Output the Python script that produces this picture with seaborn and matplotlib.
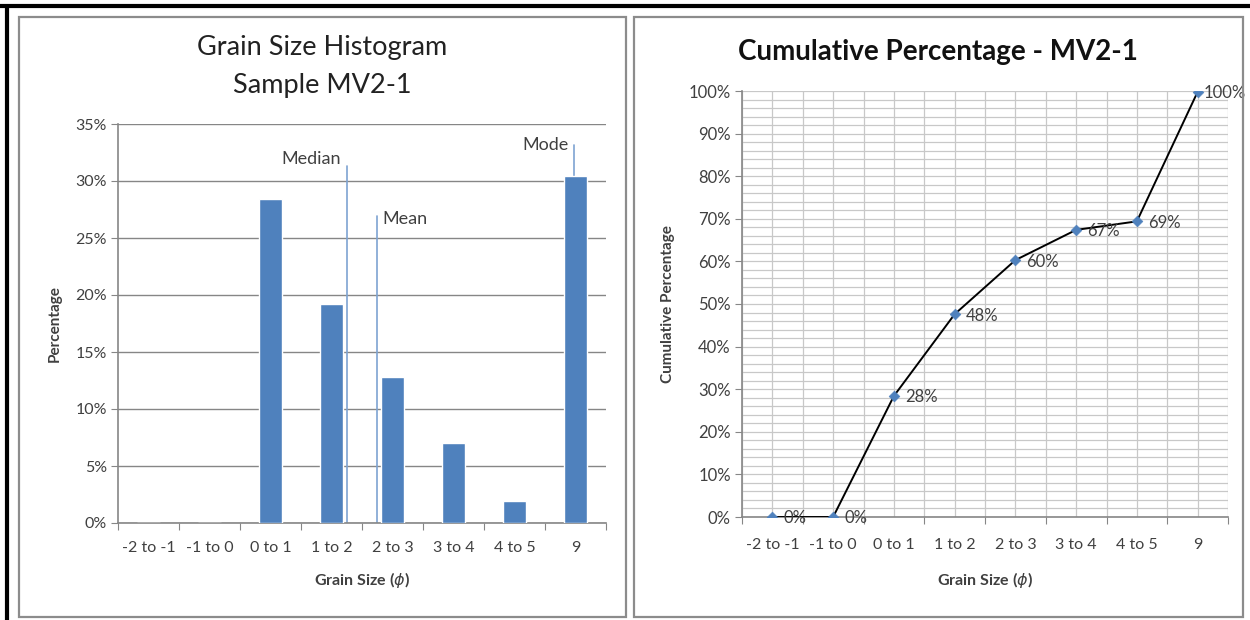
import seaborn as sns
import matplotlib.pyplot as plt
import pandas as pd
from matplotlib.lines import Line2D
from matplotlib.patches import Rectangle
from matplotlib.ticker import MultipleLocator, FuncFormatter

# Données
categories = ["-2 to -1", "-1 to 0", "0 to 1", "1 to 2", "2 to 3", "3 to 4", "4 to 5", "9"]
percentage = [0.0, 0.0, 28.4, 19.2, 12.8, 7.0, 1.9, 30.4]
cumulative = [0.0, 0.0, 28.4, 47.6, 60.3, 67.4, 69.4, 99.8]

# Repères statistiques (position en unités de catégorie, hauteur du trait en %)
stat_names = ["Median", "Mean", "Mode"]
stat_pos = [3.25, 3.75, 6.98]
stat_top = [31.3, 26.9, 33.2]

sns.set_style("white")
plt.rcParams["font.family"] = ["Lato", "DejaVu Sans"]
plt.rcParams["mathtext.fontset"] = "dejavusans"

blue = "#4f81bd"
grey = "#868686"
txt = "#404040"

fig = plt.figure(figsize=(12.5, 6.2), dpi=100)
W, H = 1250, 620

def fx(px):
    return px / W

def fy(py):
    return 1 - py / H

# cadres des deux graphiques
for x0, x1 in [(19, 626), (634, 1243)]:
    fig.patches.append(Rectangle((fx(x0), fy(617)), fx(x1 - x0), (617 - 17) / H,
                                 transform=fig.transFigure, fill=False,
                                 edgecolor="#8c8c8c", linewidth=1.6))
# bordure noire extérieure
fig.lines.append(Line2D([0, 1], [fy(6), fy(6)], transform=fig.transFigure, color="black", linewidth=3))
fig.lines.append(Line2D([fx(7), fx(7)], [fy(6), 0], transform=fig.transFigure, color="black", linewidth=3))

# ---------- Histogramme ----------
ax1 = fig.add_axes([fx(118), fy(523), fx(606 - 118), (523 - 124) / H])
df = pd.DataFrame({"cat": categories, "pct": percentage})
sns.barplot(data=df, x="cat", y="pct", order=categories, color=blue, saturation=1,
            width=0.38, ax=ax1, zorder=3)
ax1.set_xlim(-0.5, len(categories) - 0.5)
ax1.set_ylim(0, 35)
ax1.yaxis.set_major_locator(MultipleLocator(5))
ax1.yaxis.set_major_formatter(FuncFormatter(lambda v, p: f"{v:.0f}%"))
ax1.grid(axis="y", color=grey, linewidth=1.0, zorder=0)
ax1.set_axisbelow(True)
ax1.set_xticks([i + 0.5 for i in range(-1, len(categories))], minor=False)
ax1.set_xticklabels([])
ax1.set_xticks(range(len(categories)), minor=True)
ax1.set_xticklabels(categories, minor=True)
ax1.tick_params(axis="x", which="major", length=5, color=grey, direction="out", bottom=True)
ax1.tick_params(axis="x", which="minor", length=0, pad=13, labelsize=11.5, labelcolor=txt)
ax1.tick_params(axis="y", length=5, color=grey, direction="out", left=True, labelsize=11.5,
                labelcolor=txt, pad=3)
for s in ["top", "right"]:
    ax1.spines[s].set_visible(False)
for s in ["left", "bottom"]:
    ax1.spines[s].set_color(grey)
    ax1.spines[s].set_linewidth(1.2)

for name, xpos, top in zip(stat_names, stat_pos, stat_top):
    ax1.plot([xpos, xpos], [0, top], color="#7ea3d2", linewidth=1.2, zorder=2)
    if name == "Mean":
        ax1.annotate(name, (xpos, top), xytext=(4, -2), textcoords="offset points",
                     ha="left", va="center", fontsize=13, color=txt)
    elif name == "Median":
        ax1.annotate(name, (xpos, top), xytext=(-4, 5), textcoords="offset points",
                     ha="right", va="center", fontsize=13, color=txt)
    else:
        ax1.annotate(name, (xpos, top), xytext=(-4, 0), textcoords="offset points",
                     ha="right", va="center", fontsize=13, color=txt)

ax1.set_xlabel(r"Grain Size ($\phi$)", fontsize=11.5, fontweight="bold", color=txt, labelpad=11)
ax1.set_ylabel("Percentage", fontsize=11, fontweight="bold", color=txt, labelpad=10)
fig.text(fx(322), fy(48), "Grain Size Histogram", ha="center", va="center", fontsize=19.5, color="#222")
fig.text(fx(322), fy(86), "Sample MV2-1", ha="center", va="center", fontsize=19.5, color="#222")

# ---------- Pourcentage cumulé ----------
ax2 = fig.add_axes([fx(742), fy(517), fx(1228 - 742), (517 - 91) / H])
sns.lineplot(x=categories, y=cumulative, sort=False, color="black", linewidth=1.4, ax=ax2, zorder=3)
sns.scatterplot(x=categories, y=cumulative, marker="D", s=30, color=blue, edgecolor=blue,
                ax=ax2, zorder=4)
ax2.set_xlim(-0.5, len(categories) - 0.5)
ax2.set_ylim(0, 100)
ax2.yaxis.set_major_locator(MultipleLocator(10))
ax2.yaxis.set_minor_locator(MultipleLocator(2))
ax2.yaxis.set_major_formatter(FuncFormatter(lambda v, p: f"{v:.0f}%"))
ax2.set_xticks([i + 0.5 for i in range(-1, len(categories))])
ax2.set_xticklabels([])
ax2.set_xticks([i * 0.5 for i in range(-1, 2 * len(categories))], minor=True)
ax2.set_xticklabels([""] + [categories[i // 2] if i % 2 == 0 else "" for i in range(2 * len(categories) - 1)] + [""], minor=True)
ax2.grid(which="both", axis="both", color="#c8c8c8", linewidth=0.9, zorder=0)
ax2.set_axisbelow(True)
ax2.tick_params(axis="x", which="major", length=5, color=grey, direction="out", bottom=True)
ax2.tick_params(axis="x", which="minor", length=0, pad=15, labelsize=11.5, labelcolor=txt)
ax2.tick_params(axis="y", which="major", length=5, color=grey, direction="out", left=True,
                labelsize=12, labelcolor=txt, pad=3)
ax2.tick_params(axis="y", which="minor", length=0)
for s in ["top", "right"]:
    ax2.spines[s].set_visible(False)
for s in ["left", "bottom"]:
    ax2.spines[s].set_color(grey)
    ax2.spines[s].set_linewidth(1.2)

for i, v in enumerate(cumulative):
    dx = 4 if v > 90 else 8
    ax2.annotate(f"{v:.0f}%", (i, v), xytext=(dx, -1), textcoords="offset points",
                 ha="left", va="center", fontsize=12, color=txt, zorder=5)

ax2.set_xlabel(r"Grain Size ($\phi$)", fontsize=11.5, fontweight="bold", color=txt, labelpad=13)
ax2.set_ylabel("Cumulative Percentage", fontsize=11, fontweight="bold", color=txt, labelpad=10)
fig.text(fx(938), fy(52), "Cumulative Percentage - MV2-1", ha="center", va="center",
         fontsize=20, fontweight="bold", color="#111")

plt.savefig("out.png", dpi=100)
